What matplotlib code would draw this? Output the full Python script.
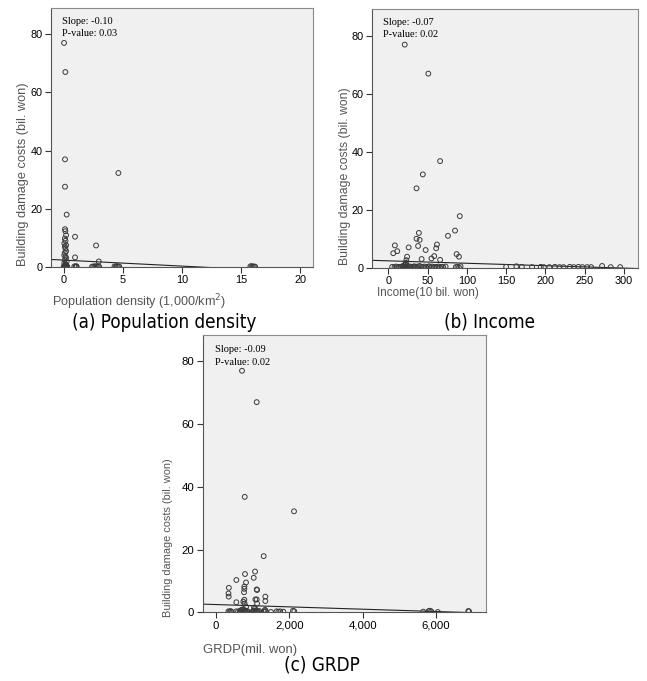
import numpy as np
import matplotlib
matplotlib.use('Agg')
import matplotlib.pyplot as plt
from matplotlib import font_manager
from matplotlib.ticker import FuncFormatter

W, H = 647, 681

# (a) Population density (1,000/km2) vs building damage costs (bil. won)
dens_x = [0.03, 0.14, 0.11, 0.11, 0.25, 4.63, 0.11, 0.14, 0.20, 0.96, 2.74, 0.96, 2.97,
          0.10, 0.15, 0.05, 0.20, 0.10, 0.15, 0.20, 0.10, 0.05, 0.15, 0.20, 0.10, 0.25,
          0.05, 0.15, 0.20, 0.10,
          0.00, 0.05, 0.10, 0.15, 0.20, 0.25, 0.30, 0.90, 1.00, 1.05, 1.10,
          2.40, 2.50, 2.60, 2.70, 2.80, 2.90, 3.00, 4.30, 4.40, 4.50, 4.60, 4.70,
          15.8, 15.9, 16.0, 16.1, 16.2]
dens_y = [77, 67, 37, 27.6, 18, 32.3, 13, 12.3, 10.9, 10.4, 7.4, 3.3, 1.9,
          9.8, 9.0, 8.1, 7.5, 7.0, 6.3, 5.4, 4.9, 4.1, 3.6, 3.1, 2.5, 1.8,
          1.4, 1.0, 0.7, 0.4,
          0.2, 0.1, 0.3, 0.1, 0.2, 0.1, 0.2, 0.2, 0.1, 0.3, 0.1,
          0.1, 0.2, 0.1, 0.3, 0.1, 0.2, 0.1, 0.2, 0.1, 0.3, 0.1, 0.2,
          0.2, 0.3, 0.1, 0.2, 0.1]

# (b) Income (10 bil. won)
inc_x = [21, 51, 66, 44, 36, 91, 85, 76, 39, 36, 40, 38, 8.5, 11.5, 6.4, 26, 62, 61,
         47.6, 87, 90, 58.5, 55, 66, 42.5, 24, 23, 22.5, 92,
         5, 8, 10, 12, 14, 16, 18, 19, 20, 21, 22, 23, 24, 25, 26, 27, 28, 30, 32, 33,
         35, 37, 38, 40, 42, 44, 46, 48, 50, 52, 54, 56, 58, 60, 62, 64, 66, 68, 70,
         73, 86, 88, 90,
         150, 163, 170, 183, 194, 198, 205, 212, 218, 223, 231, 236, 242, 247, 253,
         258, 272, 283, 295]
inc_y = [77, 67, 36.8, 32.2, 27.4, 17.8, 12.8, 11, 12, 10, 9.6, 7.5, 7.7, 5.7, 5.0,
         7.0, 8.0, 6.7, 6.1, 4.7, 3.8, 4.0, 3.2, 2.7, 3.0, 3.8, 2.6, 1.7, 0.5,
         0.3, 0.2, 0.4, 0.1, 0.3, 0.2, 0.5, 0.3, 0.8, 0.2, 1.0, 0.4, 0.2, 0.6, 0.3,
         0.2, 0.4, 0.1, 0.3, 0.5, 0.2, 0.4, 0.1, 0.6, 0.3, 0.2, 0.4, 0.1, 0.3, 0.5,
         0.2, 0.4, 0.1, 0.3, 0.2, 0.4, 0.1, 0.3, 0.2, 0.4, 0.2, 0.3, 0.1,
         0.3, 0.5, 0.3, 0.2, 0.3, 0.2, 0.2, 0.3, 0.2, 0.2, 0.3, 0.2, 0.3, 0.2, 0.2,
         0.2, 0.6, 0.2, 0.2]

# (c) GRDP (mil. won)
grdp_x = [709, 1110, 783, 2127, 1300, 1064, 791, 1028, 555, 818, 773, 773, 350, 340,
          346, 1110, 1120, 764, 1345, 1345, 554, 773, 1073, 1110, 780, 1120, 1036,
          745, 1064, 1336, 820,
          340, 370, 400, 430, 550, 600, 650, 690, 700, 720, 740, 760, 780, 800, 820,
          850, 880, 1000, 1030, 1060, 1080, 1100, 1120, 1150, 1180, 1300, 1330, 1360,
          1500, 1650, 1700, 1750, 1836, 2100, 2135, 5650, 5800, 5830, 5870, 6050,
          6880, 6900]
grdp_y = [77, 67, 36.8, 32.2, 17.9, 13, 12.2, 11, 10.3, 9.5, 8.2, 7.5, 7.8, 6.0,
          5.0, 7.3, 7.1, 6.4, 5.0, 3.6, 3.2, 4.0, 4.1, 4.1, 2.8, 2.8, 1.5,
          3.4, 1.2, 0.8, 1.8,
          0.3, 0.2, 0.4, 0.1, 0.3, 0.2, 0.5, 0.3, 0.8, 0.2, 1.0, 0.4, 0.6, 0.3, 0.2,
          0.4, 0.1, 0.3, 0.5, 0.2, 0.6, 0.4, 0.3, 0.2, 0.4, 0.3, 0.2, 0.4,
          0.1, 0.3, 0.2, 0.3, 0.2, 0.5, 0.3, 0.2, 0.4, 0.5, 0.3, 0.1,
          0.4, 0.3]

# regression lines (intercept, slope) and the printed statistics
fits = [(2.37, -0.206), (2.37, -0.0084), (2.47, -0.00037)]
stats = [('-0.10', '0.03'), ('-0.07', '0.02'), ('-0.09', '0.02')]

ylabel = 'Building damage costs (bil. won)'
xlabels = ['Population density (1,000/km$^2$)', 'Income(10 bil. won)', 'GRDP(mil. won)']
captions = ['(a) Population density', '(b) Income', '(c) GRDP']

xticks = [[0, 5, 10, 15, 20], [0, 50, 100, 150, 200, 250, 300], [0, 2000, 4000, 6000]]
yticks = [0, 20, 40, 60, 80]

# condensed face for the captions, if one is installed
names = {f.name for f in font_manager.fontManager.ttflist}
if 'Liberation Sans Narrow' in names:
    cap_font = dict(family='Liberation Sans Narrow')
else:
    cap_font = dict(family='DejaVu Sans', stretch='condensed')


def px(x, y):
    return x / W, 1 - y / H


def rect(l, t, r, b):
    return [l / W, 1 - b / H, (r - l) / W, (b - t) / H]


fig = plt.figure(figsize=(W / 100, H / 100), dpi=100)

# panel layout in pixels: axes box, x/y limits, label positions
panels = [
    dict(box=(50.7, 8, 313, 267), xlim=(-1.1, 21.1), ylim=(0, 89),
         ylab=(22.7, 174.5, 9.2), xlab=(52, 302, 9.1), cap=(164, 322)),
    dict(box=(371.7, 9, 638, 267.7), xlim=(-21, 317.7), ylim=(0, 89.3),
         ylab=(345, 176, 8.8), xlab=(376.7, 293, 8.4), cap=(490, 322)),
    dict(box=(202.7, 335, 486, 612.3), xlim=(-363, 7363), ylim=(0, 88.4),
         ylab=(168.3, 538, 7.9), xlab=(203, 650, 9.4), cap=(321.5, 665)),
]
data = [(dens_x, dens_y), (inc_x, inc_y), (grdp_x, grdp_y)]

for i, p in enumerate(panels):
    ax = fig.add_axes(rect(*p['box']))
    ax.set_facecolor('#f0f0f0')
    x, y = data[i]
    ax.scatter(x, y, s=12, facecolors='none', edgecolors='#3a3a3a',
               linewidths=0.7, zorder=3)
    b0, b1 = fits[i]
    xs = np.array(p['xlim'])
    ax.plot(xs, b0 + b1 * xs, color='#222222', lw=0.8, zorder=2)
    ax.set_xlim(*p['xlim'])
    ax.set_ylim(*p['ylim'])
    ax.set_xticks(xticks[i])
    ax.set_yticks(yticks)
    if i == 2:
        ax.xaxis.set_major_formatter(FuncFormatter(lambda v, _: f'{int(v):,}'))
    ax.tick_params(direction='out', length=4, width=0.8, color='#333333',
                   labelsize=8.2 if i == 2 else 7.8, labelcolor='black', pad=2)
    for lab in ax.get_xticklabels() + ax.get_yticklabels():
        lab.set_family('Liberation Sans')
    for side in ['top', 'right']:
        ax.spines[side].set_color('#8a8a8a')
        ax.spines[side].set_linewidth(0.8)
    for side in ['left', 'bottom']:
        ax.spines[side].set_color('#555555')
        ax.spines[side].set_linewidth(0.8)

    ax.text(0.043, 0.946, 'Slope: ' + stats[i][0], transform=ax.transAxes,
            family='Liberation Serif', fontsize=7.5, va='center', ha='left')
    ax.text(0.043, 0.900, 'P-value: ' + stats[i][1], transform=ax.transAxes,
            family='Liberation Serif', fontsize=7.5, va='center', ha='left')

    yx, yy, ys = p['ylab']
    fig.text(*px(yx, yy), ylabel, rotation=90, ha='center', va='center',
             family='Liberation Sans', fontsize=ys, color='#555555')
    xx, xy, xsz = p['xlab']
    fig.text(*px(xx, xy), xlabels[i], ha='left', va='center',
             family='Liberation Sans', fontsize=xsz, color='#555555')
    cx, cy = p['cap']
    fig.text(*px(cx, cy), captions[i], ha='center', va='center',
             fontsize=13.5, color='black', **cap_font)

fig.savefig('out.png', dpi=100)
